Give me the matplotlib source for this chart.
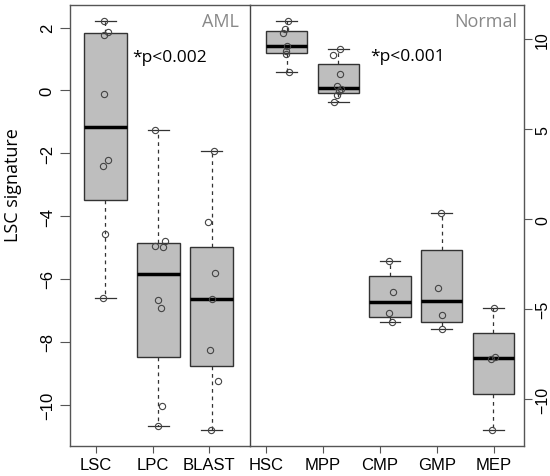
import numpy as np
import matplotlib.pyplot as plt

# AML samples (left axis)
aml_groups = ['LSC', 'LPC', 'BLAST']
aml_values = [
    [2.2, 1.87, 1.77, -0.1, -2.2, -2.42, -4.56, -6.6],
    [-1.27, -4.79, -4.94, -4.99, -6.68, -6.93, -10.05, -10.69],
    [-1.93, -4.2, -5.8, -6.64, -8.26, -9.26, -10.8],
]
aml_jitter = [
    [-0.03, 0.06, -0.02, -0.02, 0.06, -0.04, 0.0, -0.04],
    [-0.06, 0.12, -0.07, 0.08, 0.0, 0.04, 0.07, 0.0],
    [0.05, -0.07, 0.07, 0.0, -0.03, 0.12, -0.01],
]

# normal hematopoietic samples (right axis)
nrm_groups = ['HSC', 'MPP', 'CMP', 'GMP', 'MEP']
nrm_values = [
    [11.0, 10.59, 10.33, 9.63, 9.33, 9.2, 8.18],
    [9.44, 9.13, 8.09, 7.4, 7.22, 7.12, 6.89, 6.54],
    [-2.33, -4.02, -5.22, -5.7],
    [0.37, -3.81, -5.3, -6.09],
    [-4.96, -7.67, -7.78, -11.7],
]
nrm_jitter = [
    [0.02, -0.03, -0.07, 0.0, -0.01, -0.02, 0.04],
    [0.03, -0.1, 0.04, -0.03, 0.05, 0.01, -0.03, -0.09],
    [-0.02, 0.06, -0.03, 0.03],
    [-0.02, -0.07, 0.01, 0.0],
    [0.01, 0.02, -0.05, -0.02],
]


def fivenum(v):
    # Tukey hinges, as R's boxplot uses
    x = np.sort(v)
    n = len(x)
    n4 = np.floor((n + 3) / 2) / 2
    d = np.array([1, n4, (n + 1) / 2, n + 1 - n4, n]) - 1
    return 0.5 * (x[np.floor(d).astype(int)] + x[np.ceil(d).astype(int)])


def draw_panel(ax, groups, values, jitter):
    stats = []
    for g, v in zip(groups, values):
        lo, q1, med, q3, hi = fivenum(v)
        stats.append(dict(label=g, whislo=lo, q1=q1, med=med, q3=q3,
                          whishi=hi, fliers=[]))
    pos = np.arange(1, len(groups) + 1)
    ax.bxp(stats, positions=pos, widths=0.8, capwidths=0.4,
           patch_artist=True, showfliers=False,
           boxprops=dict(facecolor='#bebebe', edgecolor='#333333', lw=1.0),
           medianprops=dict(color='black', lw=2.5),
           whiskerprops=dict(color='#333333', lw=0.9, linestyle=(0, (3, 3))),
           capprops=dict(color='#333333', lw=0.9))
    for p, v, j in zip(pos, values, jitter):
        ax.plot(p + np.array(j), v, 'o', ms=4.5, mfc='none', mec='#444444',
                mew=0.8, zorder=5)
    # R style 4% padding of the data range
    allv = np.concatenate([np.array(v) for v in values])
    pad = 0.04 * (allv.max() - allv.min())
    ax.set_ylim(allv.min() - pad, allv.max() + pad)


def minus(v, p):
    return f'{v:.0f}'.replace('-', '\u2212')


fig = plt.figure(figsize=(5.5, 4.77), dpi=100)
ax1 = fig.add_axes([70 / 550, 30 / 477, 180 / 550, 441 / 477])
ax2 = fig.add_axes([250 / 550, 30 / 477, 274 / 550, 441 / 477])
ax2.patch.set_visible(False)

draw_panel(ax1, aml_groups, aml_values, aml_jitter)
draw_panel(ax2, nrm_groups, nrm_values, nrm_jitter)

ax1.set_xlim(0.337, 3.72)
ax2.set_xlim(0.29, 5.59)
ax1.set_xticks([0.83, 1.89, 2.95], aml_groups)
ax2.set_xticks([0.60, 1.70, 2.80, 3.91, 5.01], nrm_groups)
ax1.set_yticks([-10, -8, -6, -4, -2, 0, 2])
ax2.set_yticks([-10, -5, 0, 5, 10])
ax1.yaxis.set_major_formatter(minus)
ax2.yaxis.set_major_formatter(minus)
ax2.yaxis.tick_right()

for ax in (ax1, ax2):
    for s in ax.spines.values():
        s.set_color('#555555')
        s.set_linewidth(1.0)
    ax.tick_params(axis='x', colors='#555555', labelcolor='black',
                   length=5, width=0.8, labelsize=12, pad=3)
    for t in ax.get_xticklabels():
        t.set_family('Liberation Sans')
ax1.tick_params(axis='y', colors='#555555', labelcolor='black',
                length=7, width=0.8, labelsize=12, pad=4)
ax2.tick_params(axis='y', colors='#555555', labelcolor='black',
                length=6, width=0.8, labelsize=11.5, pad=2)
for ax in (ax1, ax2):
    for t in ax.get_yticklabels():
        t.set_family('Liberation Sans')
        t.set_rotation(90)
        t.set_verticalalignment('center')
ax1.spines['right'].set_visible(False)
ax2.spines['left'].set_color('#444444')

ax1.set_ylabel('LSC signature', family='Open Sans', fontsize=13)
ax1.yaxis.set_label_coords(-0.267, 0.594)

ax1.text(0.939, 0.985, 'AML', transform=ax1.transAxes, ha='right', va='top',
         color='#888888', family='Open Sans', fontsize=13)
ax2.text(0.974, 0.985, 'Normal', transform=ax2.transAxes, ha='right',
         va='top', color='#888888', family='Open Sans', fontsize=13)
ax1.text(1.515, 1.08, '*p<0.002', ha='left', va='center', family='Open Sans',
         fontsize=12.5)
ax2.text(2.61, 9.07, '*p<0.001', ha='left', va='center', family='Open Sans',
         fontsize=12.5)

fig.savefig('out.png', dpi=100)
